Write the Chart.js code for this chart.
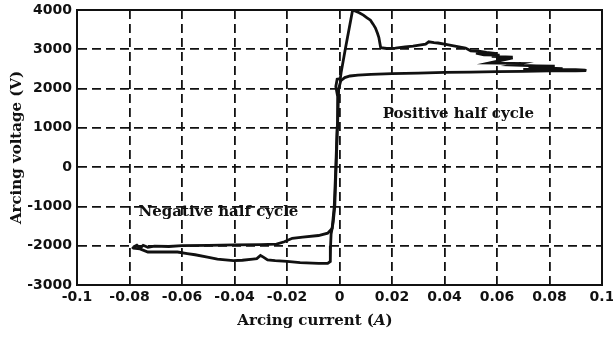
<!DOCTYPE html>
<html>
<head>
<meta charset="utf-8">
<script src="https://cdn.jsdelivr.net/npm/chart.js@4.4.1/dist/chart.umd.min.js"></script>
<style>
  html, body { margin: 0; padding: 0; background: #fff; }
</style>
</head>
<body>
<canvas id="arcChart" width="613" height="338"></canvas>
<script>
// V-I characteristic of the arc, traced as two branches of one loop
const riseI = [-0.0785, -0.0772, -0.0760, -0.0748, -0.0730, -0.0705, -0.0650, -0.0600, -0.0500, -0.0400,
  -0.0300, -0.0240, -0.0210, -0.0180, -0.0140, -0.0080, -0.0045, -0.0028, -0.0020, -0.0014,
  -0.0009, -0.0007, -0.0014, -0.0009, 0.0003, 0.0006, 0.0022, 0.0050, 0.0075, 0.0091,
  0.0105, 0.0118, 0.0128, 0.0137, 0.0145, 0.0150, 0.0154, 0.0157, 0.0180, 0.0213,
  0.0250, 0.0280, 0.0310, 0.0328, 0.0340, 0.0360, 0.0375, 0.0400, 0.0440, 0.0480,
  0.0500, 0.0530, 0.0560, 0.0600, 0.0520, 0.0550, 0.0610, 0.0580, 0.0660, 0.0600,
  0.0660, 0.0570, 0.0690, 0.0660, 0.0750, 0.0820, 0.0720, 0.0850, 0.0700, 0.0900,
  0.0935, 0.0940];
const riseV = [-2030, -1985, -2060, -1990, -2040, -2010, -2020, -2000, -1990, -1980,
  -1970, -1960, -1900, -1810, -1780, -1740, -1680, -1560, -1000, 0,
  1000, 1800, 2050, 2240, 2250, 2400, 3000, 4000, 3930, 3870,
  3800, 3740, 3640, 3540, 3400, 3300, 3150, 3040, 3020, 3030,
  3060, 3080, 3110, 3130, 3190, 3170, 3160, 3130, 3080, 3030,
  2960, 2950, 2920, 2890, 2900, 2860, 2850, 2820, 2800, 2770,
  2780, 2650, 2640, 2600, 2580, 2570, 2540, 2510, 2490, 2480,
  2470, 2455];

const fallI = [0.0940, 0.0900, 0.0800, 0.0700, 0.0600, 0.0500, 0.0400, 0.0300, 0.0200, 0.0120,
  0.0070, 0.0040, 0.0020, 0.0005, -0.0003, -0.0008, -0.0013, -0.0018, -0.0024, -0.0032,
  -0.0034, -0.0035, -0.0045, -0.0080, -0.0150, -0.0200, -0.0245, -0.0274, -0.0290, -0.0301,
  -0.0315, -0.0330, -0.0370, -0.0404, -0.0435, -0.0465, -0.0503, -0.0550, -0.0580, -0.0617,
  -0.0660, -0.0730, -0.0760, -0.0785, -0.0790];
const fallV = [2455, 2450, 2450, 2440, 2430, 2420, 2410, 2395, 2380, 2360,
  2340, 2320, 2280, 2200, 2000, 1000, 0, -1000, -1400, -1700,
  -2000, -2400, -2450, -2450, -2430, -2400, -2380, -2360, -2290, -2250,
  -2330, -2340, -2370, -2380, -2360, -2340, -2290, -2230, -2200, -2160,
  -2160, -2160, -2080, -2060, -2030];

const xTicks = [-0.1, -0.08, -0.06, -0.04, -0.02, 0, 0.02, 0.04, 0.06, 0.08, 0.1];
const yTicks = [-3000, -2000, -1000, 0, 1000, 2000, 3000, 4000];

// text notes placed in data coordinates (centre x, baseline y)
const notes = [
  { text: "Positive half cycle", x: 0.0453, y: 1250 },
  { text: "Negative half cycle", x: -0.0461, y: -1250 }
];

const ink = "#111";
const serif = '"DejaVu Serif", "Liberation Serif", serif';
const sans = '"DejaVu Sans", sans-serif';

function toPoints(xs, ys) {
  return xs.map((v, i) => ({ x: v, y: ys[i] }));
}

const extras = {
  id: "extras",
  afterDraw(chart) {
    const ctx = chart.ctx;
    const a = chart.chartArea;
    const sx = chart.scales.x, sy = chart.scales.y;
    ctx.save();
    // box around the plot
    ctx.strokeStyle = ink;
    ctx.lineWidth = 2;
    ctx.setLineDash([]);
    ctx.strokeRect(a.left, a.top, a.right - a.left, a.bottom - a.top);

    // half-cycle notes
    ctx.fillStyle = ink;
    ctx.font = "bold 15px " + serif;
    ctx.textAlign = "center";
    ctx.textBaseline = "alphabetic";
    notes.forEach(n => {
      ctx.fillText(n.text, sx.getPixelForValue(n.x), sy.getPixelForValue(n.y));
    });

    // x axis title with italic unit
    const parts = [
      ["Arcing current (", "bold 15px " + serif],
      ["A", "italic bold 15px " + serif],
      [")", "bold 15px " + serif]
    ];
    let total = 0;
    parts.forEach(p => { ctx.font = p[1]; total += ctx.measureText(p[0]).width; });
    let px = 315 - total / 2;
    ctx.textAlign = "left";
    parts.forEach(p => {
      ctx.font = p[1];
      ctx.fillText(p[0], px, 325);
      px += ctx.measureText(p[0]).width;
    });
    ctx.restore();
  }
};

new Chart(document.getElementById("arcChart"), {
  type: "scatter",
  data: {
    datasets: [
      { data: toPoints(riseI, riseV) },
      { data: toPoints(fallI, fallV) }
    ]
  },
  options: {
    responsive: false,
    animation: false,
    showLine: true,
    elements: {
      point: { radius: 0 },
      line: { borderColor: ink, borderWidth: 2.8, tension: 0 }
    },
    layout: { padding: { top: 10, right: 11, left: 0, bottom: 0 } },
    plugins: { legend: { display: false }, tooltip: { enabled: false } },
    scales: {
      x: {
        type: "linear",
        min: -0.1,
        max: 0.1,
        afterBuildTicks: s => { s.ticks = xTicks.map(v => ({ value: v })); },
        afterFit: s => { s.height = 53; s.paddingLeft = 0; s.paddingRight = 0; },
        grid: { color: ink, lineWidth: 1.8, drawTicks: false },
        border: { display: true, color: ink, width: 2, dash: [9, 5] },
        ticks: {
          autoSkip: false,
          maxRotation: 0,
          padding: 4,
          color: ink,
          font: { family: sans, weight: "bold", size: 14 },
          callback: v => String(Number(v.toFixed(2)))
        }
      },
      y: {
        min: -3000,
        max: 4000,
        afterBuildTicks: s => { s.ticks = yTicks.map(v => ({ value: v })); },
        afterFit: s => { s.width = 77; s.paddingTop = 0; s.paddingBottom = 0; },
        grid: { color: ink, lineWidth: 1.8, drawTicks: false },
        border: { display: true, color: ink, width: 2, dash: [9, 5] },
        ticks: {
          padding: 5,
          color: ink,
          font: { family: sans, weight: "bold", size: 14 },
          callback: v => String(v)
        },
        title: {
          display: true,
          text: "Arcing voltage (V)",
          color: ink,
          padding: { top: 8, bottom: 0 },
          font: { family: serif, weight: "bold", size: 15 }
        }
      }
    }
  },
  plugins: [extras]
});
</script>
</body>
</html>
